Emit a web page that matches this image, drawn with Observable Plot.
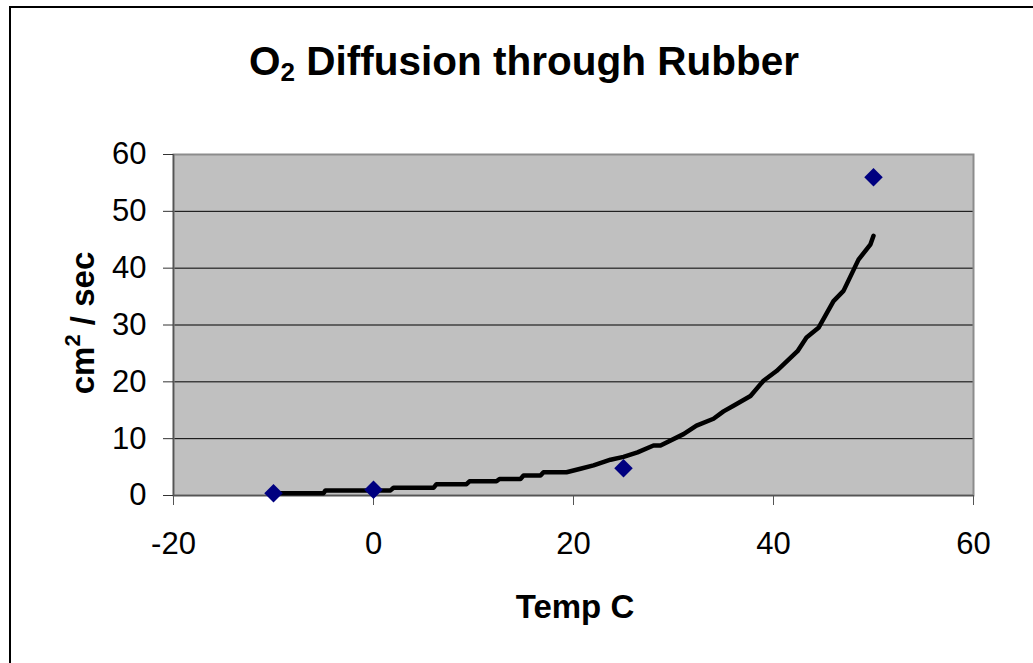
<!DOCTYPE html>
<html><head><meta charset="utf-8">
<script src="https://cdn.jsdelivr.net/npm/d3@7"></script>
<script src="https://cdn.jsdelivr.net/npm/@observablehq/plot@0.6"></script>
<style>
body{margin:0;background:#fff;}
#wrap{position:relative;width:1033px;height:663px;overflow:hidden;font-family:"Liberation Sans",Arial,sans-serif;color:#000;}
#border{position:absolute;left:9px;top:6px;width:1100px;height:700px;border-left:2px solid #000;border-top:2px solid #000;}
#chart{position:absolute;left:0;top:0;}
#title{position:absolute;left:0;width:1048px;top:37px;text-align:center;font-weight:bold;font-size:40.5px;line-height:48px;}
#title sub{font-size:26px;vertical-align:-6px;line-height:0;}
#xlabel{position:absolute;left:475px;width:200px;top:588px;text-align:center;font-weight:bold;font-size:33px;line-height:38px;}
#ylabel{position:absolute;left:-17px;width:200px;top:304px;text-align:center;font-weight:bold;font-size:33px;line-height:38px;transform:rotate(-90deg);}
#ylabel sup{font-size:22px;vertical-align:14px;line-height:0;}
</style>
</head><body>
<div id="wrap">
<div id="border"></div>
<div id="chart"></div>
<div id="title">O<sub>2</sub> Diffusion through Rubber</div>
<div id="ylabel">cm<sup>2</sup> / sec</div>
<div id="xlabel">Temp C</div>
</div>
<script>
const tempC = [-10, 0, 25, 50];
const diffusion = [0.4, 1.0, 4.8, 56];
const trendTemp = [-10, -5, -4.8, 1.7, 2, 6, 6.3, 9.3, 9.6, 12.3, 12.6, 14.7, 15, 16.7, 17, 19.3, 20.7, 22, 23.7, 25, 26.4, 28, 28.7, 31, 32.3, 34, 35, 36, 37.7, 39, 40.3, 42.4, 43.3, 44.5, 46, 47, 48.5, 49.7, 50];
const trendValue = [0.4, 0.4, 0.9, 0.9, 1.35, 1.35, 2.0, 2.0, 2.5, 2.5, 2.9, 2.9, 3.5, 3.5, 4.1, 4.1, 4.7, 5.3, 6.3, 6.8, 7.6, 8.8, 8.8, 10.8, 12.3, 13.5, 14.8, 15.8, 17.5, 20.2, 21.9, 25.4, 27.8, 29.5, 34.2, 36, 41.5, 44.2, 45.7];
const xTicks = [-20, 0, 20, 40, 60];
const yTicks = [0, 10, 20, 30, 40, 50, 60];
const gridY = [10, 20, 30, 40, 50];

const points = tempC.map((t, i) => ({t, v: diffusion[i]}));
const trend = trendTemp.map((t, i) => ({t, v: trendValue[i]}));

const chart = Plot.plot({
  width: 1033,
  height: 663,
  marginLeft: 173,
  marginRight: 60,
  marginTop: 154,
  marginBottom: 168,
  x: {domain: [-20, 60]},
  y: {domain: [0, 60]},
  style: {fontFamily: "'Liberation Sans', Arial, sans-serif", background: "transparent", color: "#000"},
  marks: [
    Plot.frame({fill: "#c0c0c0", stroke: "none"}),
    Plot.ruleY(gridY, {stroke: "#000", strokeWidth: 1}),
    Plot.frame({stroke: "#8c8c8c", strokeWidth: 2}),
    Plot.ruleY([0], {stroke: "#555", strokeWidth: 1.5}),
    Plot.ruleX([-20], {stroke: "#555", strokeWidth: 1.5}),
    Plot.axisX(xTicks, {label: null, tickSize: 10, tickPadding: 26, fontSize: 31, stroke: "#555", tickFormat: d => String(d)}),
    Plot.axisY(yTicks, {label: null, tickSize: 10, tickPadding: 17, fontSize: 31, stroke: "#333", tickFormat: d => String(d)}),
    Plot.line(trend, {x: "t", y: "v", stroke: "#000", strokeWidth: 4.5, strokeLinejoin: "round", strokeLinecap: "round"}),
    Plot.dot(points, {x: "t", y: "v", symbol: "square", r: 7.4, rotate: 45, fill: "#000080", stroke: "none"})
  ]
});
document.getElementById("chart").appendChild(chart);
</script>
</body></html>
